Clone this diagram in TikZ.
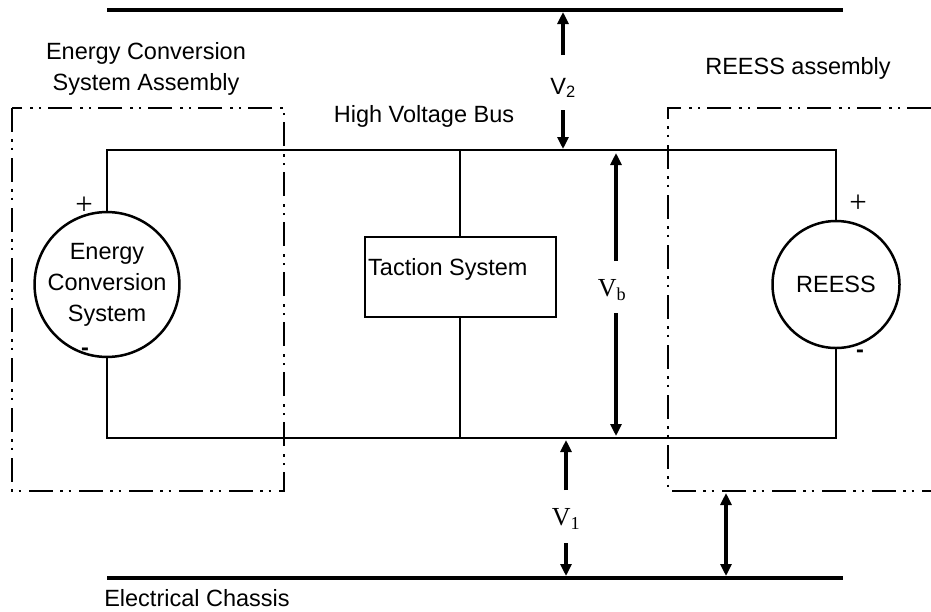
\documentclass[tikz,border=0pt]{standalone}
\usepackage{fontspec}
\setmainfont{Liberation Serif}
\newfontfamily\arialfont{Liberation Sans}
\usetikzlibrary{arrows.meta}

\begin{document}
\begin{tikzpicture}
    % styles of the picture
    [x=1pt,y=-1pt,
    wire/.style={line width=2pt},
    chassis/.style={line width=4pt},
    assy/.style={line width=2pt,dash pattern=on 24pt off 7pt on 2.5pt off 6pt on 2.5pt off 8pt},
    vArrow/.style={line width=3.5pt,-{Triangle[length=12pt,width=11pt]}},
    srcNode/.style={circle,draw,line width=2.5pt,minimum size=127pt,inner sep=0pt,align=center,
        font=\arialfont\fontsize{23.5}{31}\selectfont},
    tracBox/.style={rectangle,draw,line width=2pt,minimum width=191pt,minimum height=80pt},
    lbl/.style={inner sep=0pt,font=\arialfont\fontsize{23.5}{31.5}\selectfont},
    vLbl/.style={inner sep=0pt,font=\fontsize{26}{30}\selectfont},
    sign/.style={inner sep=0pt,font=\fontsize{31}{34}\selectfont}]

    \useasboundingbox (0,0) rectangle (931,611);

    % assembly boxes
    \draw[assy] (12,108) rectangle (284,491);
    \draw[assy] (931,108) -- (668,108) -- (668,491) -- (931,491);

    % chassis bars
    \coordinate (topL) at (107,10);
    \coordinate (topR) at (843,10);
    \coordinate (botL) at (107,578);
    \coordinate (botR) at (843,578);
    \draw[chassis] (topL) -- (topR);
    \draw[chassis] (botL) -- (botR);

    % sources and traction system
    \node[srcNode] (ecs) at (107,284.5) {Energy\\Conversion\\System};
    \node[srcNode] (reess) at (836,284.5) {REESS};
    \node[tracBox] (trac) at (460,277) {};
    \node[lbl,anchor=west] (tracLbl) at (368,269) {Taction System};

    % high voltage bus
    \coordinate (busTL) at (107,150);
    \coordinate (busTR) at (836,150);
    \coordinate (busBL) at (107,438);
    \coordinate (busBR) at (836,438);
    \coordinate (busTM) at (460,150);
    \coordinate (busBM) at (460,438);
    \draw[wire] (ecs.north) -- (busTL) -- (busTR) -- (reess.north);
    \draw[wire] (ecs.south) -- (busBL) -- (busBR) -- (reess.south);
    \draw[wire] (busTM) -- (trac.north);
    \draw[wire] (trac.south) -- (busBM);

    % + and - signs
    \foreach \n/\x/\y in {ecsP/84/206, reessP/858/204}
        \node[sign] (\n) at (\x,\y) {+};
    \foreach \n/\x/\y in {ecsM/85/352, reessM/860/354}
        \node[sign,font=\arialfont\bfseries\fontsize{23.5}{28}\selectfont] (\n) at (\x,\y) {-};

    % voltage labels
    \node[lbl] (v2Lbl) at (563,88) {V\textsubscript{2}};
    \node[vLbl] (vbLbl) at (612,290) {V\textsubscript{b}};
    \node[vLbl] (v1Lbl) at (566,519) {V\textsubscript{1}};

    % voltage arrows
    \coordinate (v2a) at (563,55);
    \coordinate (v2t) at (563,12);
    \coordinate (v2b) at (563,110);
    \coordinate (v2s) at (563,149);
    \draw[vArrow] (v2a) -- (v2t);
    \draw[vArrow] (v2b) -- (v2s);

    \coordinate (vba) at (616,261);
    \coordinate (vbt) at (616,153);
    \coordinate (vbb) at (616,313);
    \coordinate (vbs) at (616,436);
    \draw[vArrow] (vba) -- (vbt);
    \draw[vArrow] (vbb) -- (vbs);

    \coordinate (v1a) at (566,490);
    \coordinate (v1t) at (566,440);
    \coordinate (v1b) at (566,543);
    \coordinate (v1s) at (566,576);
    \draw[vArrow] (v1a) -- (v1t);
    \draw[vArrow] (v1b) -- (v1s);

    \coordinate (isoT) at (726,493);
    \coordinate (isoB) at (726,576);
    \draw[vArrow,{Triangle[length=12pt,width=11pt]}-{Triangle[length=12pt,width=11pt]}] (isoT) -- (isoB);

    % labels
    \node[lbl,align=center] (ecsaLbl) at (146,69) {Energy Conversion\\System Assembly};
    \node[lbl] (reessaLbl) at (798,68) {REESS assembly};
    \node[lbl] (hvLbl) at (424,116) {High Voltage Bus};
    \node[lbl] (chasLbl) at (197,598) {Electrical Chassis};

\end{tikzpicture}
\end{document}
